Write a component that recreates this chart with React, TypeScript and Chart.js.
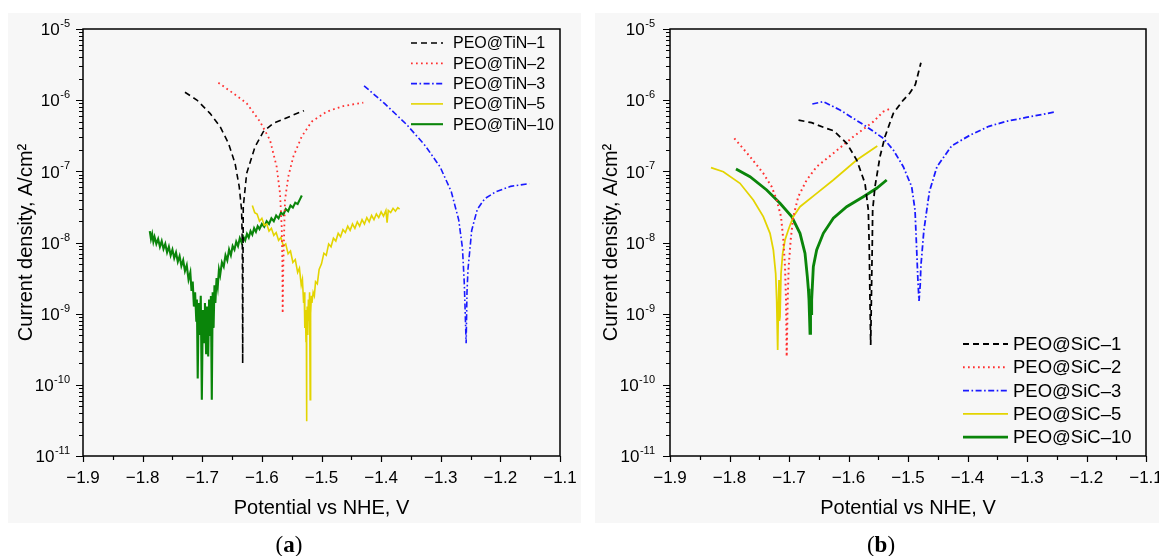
import React, { useEffect, useRef } from 'react';
import { Chart, registerables } from 'chart.js';

Chart.register(...registerables);

const FONT = '"Liberation Sans", Arial, Helvetica, sans-serif';

// ---------- shared axis values ----------
const xTickValues = [-1.9, -1.8, -1.7, -1.6, -1.5, -1.4, -1.3, -1.2, -1.1];
const yTickValues = [1e-11, 1e-10, 1e-9, 1e-8, 1e-7, 1e-6, 1e-5];

// ---------- panel (a): PEO@TiN ----------
// potentials in V vs NHE, current density given as log10(A/cm²)
const tinNames = ['PEO@TiN–1', 'PEO@TiN–2', 'PEO@TiN–3', 'PEO@TiN–5', 'PEO@TiN–10'];

const tin1V = [-1.729, -1.709, -1.687, -1.670, -1.656, -1.645, -1.638, -1.634, -1.6328, -1.6325, -1.6322, -1.6318, -1.6315, -1.6312, -1.6255, -1.6115, -1.5976, -1.5808, -1.564, -1.5473, -1.5294];
const tin1LogJ = [-5.889, -5.998, -6.185, -6.373, -6.606, -6.887, -7.216, -7.543, -8.011, -8.714, -9.697, -8.82, -8.0, -7.497, -7.028, -6.654, -6.443, -6.325, -6.269, -6.208, -6.148];

const tin2V = [-1.673, -1.648, -1.6255, -1.6031, -1.5864, -1.5752, -1.5696, -1.5668, -1.5657, -1.5651, -1.5640, -1.5625, -1.5612, -1.5557, -1.5473, -1.5333, -1.5165, -1.4913, -1.4634, -1.4299];
const tin2LogJ = [-5.754, -5.904, -6.044, -6.302, -6.56, -6.935, -7.309, -7.778, -8.246, -8.995, -8.3, -7.82, -7.403, -7.075, -6.794, -6.513, -6.302, -6.162, -6.082, -6.035];

const tin3V = [-1.4286, -1.3944, -1.357, -1.3259, -1.301, -1.2823, -1.2699, -1.2636, -1.2605, -1.2574, -1.2560, -1.2543, -1.2481, -1.2387, -1.2263, -1.2076, -1.1827, -1.1516];
const tin3LogJ = [-5.798, -6.046, -6.344, -6.641, -6.939, -7.286, -7.682, -8.079, -8.575, -9.417, -8.7, -8.376, -7.831, -7.533, -7.385, -7.286, -7.211, -7.172];

const tin5V = [-1.616, -1.612, -1.608, -1.604, -1.600, -1.596, -1.592, -1.588, -1.584, -1.580, -1.576, -1.572, -1.568, -1.564, -1.560, -1.556, -1.552, -1.548, -1.544, -1.540, -1.537, -1.534, -1.532, -1.530, -1.529, -1.528, -1.527, -1.526, -1.5255, -1.5252, -1.5245, -1.524, -1.523, -1.522, -1.521, -1.520, -1.519, -1.5185, -1.518, -1.517, -1.516, -1.514, -1.512, -1.510, -1.507, -1.504, -1.500, -1.496, -1.492, -1.488, -1.484, -1.480, -1.476, -1.472, -1.468, -1.464, -1.460, -1.456, -1.452, -1.448, -1.444, -1.440, -1.436, -1.432, -1.428, -1.424, -1.420, -1.416, -1.412, -1.408, -1.404, -1.400, -1.396, -1.392, -1.390, -1.388, -1.384, -1.380, -1.376, -1.372, -1.369];
const tin5LogJ = [-7.48, -7.58, -7.60, -7.70, -7.66, -7.76, -7.74, -7.84, -7.80, -7.90, -7.86, -7.97, -7.93, -8.05, -8.02, -8.16, -8.12, -8.28, -8.24, -8.42, -8.36, -8.60, -8.52, -8.85, -8.70, -9.20, -8.95, -9.40, -9.05, -10.51, -9.2, -8.9, -9.3, -8.8, -9.1, -8.7, -10.21, -8.9, -9.0, -8.75, -8.85, -8.70, -8.75, -8.55, -8.58, -8.38, -8.30, -8.15, -8.18, -8.02, -8.06, -7.94, -7.98, -7.87, -7.92, -7.82, -7.86, -7.77, -7.83, -7.74, -7.80, -7.71, -7.77, -7.68, -7.74, -7.65, -7.71, -7.62, -7.68, -7.60, -7.65, -7.57, -7.63, -7.55, -7.72, -7.55, -7.58, -7.52, -7.56, -7.51, -7.53];

const tin10V = [-1.788, -1.786, -1.784, -1.782, -1.780, -1.777, -1.774, -1.771, -1.768, -1.765, -1.762, -1.759, -1.756, -1.753, -1.750, -1.747, -1.744, -1.741, -1.738, -1.735, -1.732, -1.729, -1.726, -1.723, -1.720, -1.718, -1.716, -1.714, -1.712, -1.710, -1.709, -1.7076, -1.706, -1.704, -1.7025, -1.7007, -1.699, -1.697, -1.6955, -1.6935, -1.692, -1.690, -1.6885, -1.687, -1.6855, -1.684, -1.6825, -1.681, -1.6795, -1.678, -1.676, -1.674, -1.672, -1.670, -1.667, -1.664, -1.661, -1.658, -1.655, -1.652, -1.649, -1.646, -1.643, -1.640, -1.637, -1.634, -1.631, -1.628, -1.625, -1.622, -1.619, -1.616, -1.613, -1.610, -1.607, -1.604, -1.600, -1.596, -1.592, -1.588, -1.584, -1.580, -1.576, -1.572, -1.568, -1.564, -1.560, -1.556, -1.552, -1.548, -1.544, -1.540, -1.536, -1.533];
const tin10LogJ = [-7.84, -7.95, -7.88, -7.99, -7.92, -8.02, -7.95, -8.06, -7.98, -8.09, -8.02, -8.14, -8.06, -8.18, -8.10, -8.22, -8.14, -8.27, -8.19, -8.33, -8.25, -8.40, -8.32, -8.52, -8.42, -8.68, -8.55, -8.90, -8.70, -9.10, -8.80, -9.91, -8.85, -9.30, -8.75, -10.21, -8.95, -9.40, -8.85, -9.57, -8.90, -9.60, -8.80, -9.30, -8.75, -10.21, -8.70, -9.20, -8.60, -8.85, -8.50, -8.62, -8.38, -8.46, -8.28, -8.34, -8.18, -8.25, -8.10, -8.18, -8.05, -8.10, -7.99, -8.05, -7.94, -8.00, -7.92, -7.97, -7.88, -7.93, -7.84, -7.89, -7.80, -7.85, -7.77, -7.81, -7.74, -7.78, -7.70, -7.74, -7.66, -7.70, -7.62, -7.66, -7.58, -7.61, -7.53, -7.56, -7.48, -7.51, -7.44, -7.46, -7.39, -7.34];

// ---------- panel (b): PEO@SiC ----------
const sicNames = ['PEO@SiC–1', 'PEO@SiC–2', 'PEO@SiC–3', 'PEO@SiC–5', 'PEO@SiC–10'];

const sic1V = [-1.684, -1.662, -1.6395, -1.625, -1.603, -1.5862, -1.5723, -1.5667, -1.565, -1.5639, -1.5627, -1.5612, -1.5600, -1.5594, -1.5555, -1.5471, -1.5387, -1.5247, -1.5079, -1.4969, -1.4876, -1.4783];
const sic1LogJ = [-6.28, -6.316, -6.39, -6.43, -6.606, -6.841, -7.168, -7.543, -8.105, -8.808, -9.44, -8.6, -8.0, -7.543, -7.216, -6.794, -6.513, -6.185, -5.998, -5.90, -5.78, -5.475];

const sic2V = [-1.7919, -1.7655, -1.7432, -1.7291, -1.7207, -1.7134, -1.7095, -1.7067, -1.705, -1.7039, -1.7022, -1.7005, -1.6972, -1.6928, -1.6844, -1.6703, -1.6535, -1.6255, -1.5919, -1.5583, -1.5415, -1.530];
const sic2LogJ = [-6.536, -6.794, -7.028, -7.216, -7.403, -7.637, -7.965, -8.34, -8.808, -9.604, -8.808, -8.34, -7.965, -7.637, -7.356, -7.122, -6.935, -6.747, -6.513, -6.302, -6.162, -6.12];

const sic3V = [-1.6608, -1.6423, -1.6143, -1.5695, -1.5415, -1.5247, -1.5079, -1.4938, -1.4882, -1.4854, -1.4835, -1.4815, -1.4795, -1.4783, -1.4733, -1.464, -1.4514, -1.4265, -1.3953, -1.364, -1.3328, -1.3015, -1.2546];
const sic3LogJ = [-6.054, -6.021, -6.138, -6.373, -6.536, -6.70, -6.935, -7.216, -7.543, -8.105, -8.5, -8.82, -8.6, -8.326, -7.83, -7.285, -6.937, -6.64, -6.49, -6.367, -6.293, -6.243, -6.169];

const sic5V = [-1.8311, -1.8104, -1.7824, -1.76, -1.7432, -1.7319, -1.7263, -1.7224, -1.7207, -1.719, -1.7178, -1.7168, -1.7160, -1.7151, -1.7134, -1.7106, -1.7067, -1.7012, -1.6928, -1.6815, -1.6535, -1.6255, -1.5862, -1.5516];
const sic5LogJ = [-6.949, -7.005, -7.168, -7.403, -7.637, -7.871, -8.105, -8.433, -8.808, -9.51, -8.9, -8.527, -9.1, -9.042, -8.433, -8.152, -7.965, -7.824, -7.637, -7.497, -7.309, -7.122, -6.841, -6.644];

const sic10V = [-1.7891, -1.7655, -1.7375, -1.7151, -1.6955, -1.6815, -1.6731, -1.6692, -1.6675, -1.6664, -1.6655, -1.6647, -1.6638, -1.6630, -1.6619, -1.6591, -1.6535, -1.6423, -1.6255, -1.603, -1.5751, -1.5527, -1.5358];
const sic10LogJ = [-6.967, -7.075, -7.262, -7.449, -7.637, -7.871, -8.152, -8.48, -8.65, -8.808, -9.05, -9.276, -8.85, -9.0, -8.808, -8.34, -8.105, -7.871, -7.66, -7.497, -7.356, -7.238, -7.122];

// ---------- styles ----------
const STYLES = [
  { color: '#000000', dash: [6, 4], width: 1.6 },
  { color: '#ff3030', dash: [1.7, 3.3], width: 1.8 },
  { color: '#1a1aff', dash: [6, 2.5, 1.6, 2.5], width: 1.6 },
  { color: '#e3d400', dash: [] as number[], width: 1.6 },
  { color: '#0a850a', dash: [] as number[], width: 2.1 },
];

function xLabel(v: number): string {
  return v.toFixed(1).replace('-', '\u2212');
}

function buildDatasets(series: { v: number[]; lj: number[] }[], names: string[], widthScale: number[]) {
  return series.map((s, k) => ({
    label: names[k],
    data: s.v.map((x, i) => ({ x, y: Math.pow(10, s.lj[i]) })),
    borderColor: STYLES[k].color,
    borderWidth: STYLES[k].width * widthScale[k],
    borderDash: STYLES[k].dash,
    borderCapStyle: 'butt' as const,
    pointRadius: 0,
    tension: 0,
    fill: false,
  }));
}

function makeAxisPlugin(labelRight: number) {
  return {
    id: 'frameTicks',
    afterDraw(chart: any) {
      const { ctx, chartArea: a, scales } = chart;
      const xs = scales.x;
      const ys = scales.y;
      ctx.save();
      ctx.strokeStyle = '#000';
      ctx.lineWidth = 1.5;
      ctx.setLineDash([]);
      ctx.strokeRect(a.left, a.top, a.right - a.left, a.bottom - a.top);
      ctx.lineWidth = 1.2;
      ctx.beginPath();
      for (let i = 0; i <= 16; i++) {
        const v = -1.9 + i * 0.05;
        const px = Math.round(xs.getPixelForValue(v)) + 0.5;
        const len = i % 2 === 0 ? 6 : 4;
        ctx.moveTo(px, a.bottom);
        ctx.lineTo(px, a.bottom + len);
      }
      for (let d = -11; d <= -5; d++) {
        for (let m = 1; m <= 9; m++) {
          if (d === -5 && m > 1) break;
          const val = m * Math.pow(10, d);
          const py = Math.round(ys.getPixelForValue(val)) + 0.5;
          const len = m === 1 ? 7 : 4;
          ctx.moveTo(a.left - len, py);
          ctx.lineTo(a.left, py);
        }
      }
      ctx.stroke();
      // y tick labels: 10 with superscript exponent
      ctx.fillStyle = '#000';
      ctx.textAlign = 'right';
      ctx.textBaseline = 'middle';
      yTickValues.forEach((v) => {
        const py = ys.getPixelForValue(v);
        const exp = String(Math.round(Math.log10(v)));
        ctx.font = `11px ${FONT}`;
        const ew = ctx.measureText(exp).width;
        ctx.fillText(exp, labelRight, py - 5);
        ctx.font = `17px ${FONT}`;
        ctx.fillText('10', labelRight - ew - 0.5, py + 1.5);
      });
      ctx.restore();
    },
  };
}

function makeLegendPlugin(cfg: { x0: number; x1: number; tx: number; y0: number; dy: number; size: number; names: string[]; widthScale: number[] }) {
  return {
    id: 'insetLegend',
    afterDraw(chart: any) {
      const ctx = chart.ctx;
      ctx.save();
      cfg.names.forEach((name, i) => {
        const y = cfg.y0 + i * cfg.dy;
        const st = STYLES[i];
        ctx.strokeStyle = st.color;
        ctx.lineWidth = st.width * cfg.widthScale[i];
        ctx.lineCap = 'butt';
        ctx.setLineDash(st.dash);
        ctx.beginPath();
        ctx.moveTo(cfg.x0, y);
        ctx.lineTo(cfg.x1, y);
        ctx.stroke();
        ctx.setLineDash([]);
        ctx.fillStyle = '#000';
        ctx.font = `${cfg.size}px ${FONT}`;
        ctx.textAlign = 'left';
        ctx.textBaseline = 'middle';
        ctx.fillText(name, cfg.tx, y + 1);
      });
      ctx.restore();
    },
  };
}

type PanelCfg = {
  left: number;
  width: number;
  yWidth: number;
  padRight: number;
  labelRight: number;
  yTitlePad: number;
  datasets: any[];
  legend: any;
};

function Panel({ cfg }: { cfg: PanelCfg }) {
  const ref = useRef<HTMLCanvasElement>(null);
  useEffect(() => {
    const chart = new Chart(ref.current as HTMLCanvasElement, {
      type: 'line',
      data: { datasets: cfg.datasets },
      plugins: [makeAxisPlugin(cfg.labelRight), makeLegendPlugin(cfg.legend)],
      options: {
        animation: false,
        responsive: false,
        maintainAspectRatio: false,
        layout: { padding: { left: 0, top: 29, right: cfg.padRight, bottom: 0 } },
        plugins: { legend: { display: false }, tooltip: { enabled: false }, title: { display: false } },
        scales: {
          x: {
            type: 'linear',
            min: -1.9,
            max: -1.1,
            afterBuildTicks: (s: any) => {
              s.ticks = xTickValues.map((v) => ({ value: v }));
            },
            afterFit: (s: any) => {
              s.height = 100;
              s.paddingLeft = 0;
              s.paddingRight = 0;
            },
            ticks: {
              callback: (v: any) => xLabel(Number(v)),
              font: { size: 17, family: FONT },
              color: '#000',
              padding: 7,
              maxRotation: 0,
              autoSkip: false,
            },
            grid: { display: false, drawTicks: true, tickLength: 5 },
            border: { display: false },
            title: {
              display: true,
              text: 'Potential vs NHE, V',
              font: { size: 20, family: FONT },
              color: '#000',
              padding: { top: 0, bottom: 36 },
            },
          },
          y: {
            type: 'logarithmic',
            min: 1e-11,
            max: 1e-5,
            afterBuildTicks: (s: any) => {
              s.ticks = yTickValues.map((v) => ({ value: v }));
            },
            afterFit: (s: any) => {
              s.width = cfg.yWidth;
              s.paddingTop = 0;
              s.paddingBottom = 0;
            },
            ticks: { display: false },
            grid: { display: false, drawTicks: false },
            border: { display: false },
            title: {
              display: true,
              text: 'Current density, A/cm²',
              font: { size: 20, family: FONT },
              color: '#000',
              padding: { top: cfg.yTitlePad, bottom: 0 },
            },
          },
        },
      } as any,
    });
    return () => chart.destroy();
  }, []);
  return (
    <canvas
      ref={ref}
      width={cfg.width}
      height={556}
      style={{ position: 'absolute', left: cfg.left, top: 0, width: cfg.width, height: 556 }}
    />
  );
}

const tinSeries = [
  { v: tin1V, lj: tin1LogJ },
  { v: tin2V, lj: tin2LogJ },
  { v: tin3V, lj: tin3LogJ },
  { v: tin5V, lj: tin5LogJ },
  { v: tin10V, lj: tin10LogJ },
];
const sicSeries = [
  { v: sic1V, lj: sic1LogJ },
  { v: sic2V, lj: sic2LogJ },
  { v: sic3V, lj: sic3LogJ },
  { v: sic5V, lj: sic5LogJ },
  { v: sic10V, lj: sic10LogJ },
];

const widthA = [1, 1, 1, 1, 1];
const widthB = [1.1, 1.1, 1.1, 1.1, 1.35];

const panelA: PanelCfg = {
  left: 0,
  width: 580,
  yWidth: 83,
  padRight: 20,
  labelRight: 70,
  yTitlePad: 14,
  datasets: buildDatasets(tinSeries, tinNames, widthA),
  legend: { x0: 411, x1: 443, tx: 453, y0: 43, dy: 20.3, size: 16, names: tinNames, widthScale: widthA },
};

const panelB: PanelCfg = {
  left: 580,
  width: 579,
  yWidth: 90,
  padRight: 13,
  labelRight: 75,
  yTitlePad: 19.6,
  datasets: buildDatasets(sicSeries, sicNames, widthB),
  legend: { x0: 383, x1: 428, tx: 433, y0: 344, dy: 23.3, size: 18.5, names: sicNames, widthScale: widthB },
};

const captionStyle: React.CSSProperties = {
  position: 'absolute',
  top: 531,
  width: 100,
  height: 28,
  lineHeight: '28px',
  textAlign: 'center',
  fontFamily: '"Liberation Serif", "DejaVu Serif", serif',
  fontSize: 23,
  color: '#000',
};

export default function App() {
  return (
    <div style={{ position: 'absolute', left: 0, top: 0, width: 1159, height: 556, background: '#ffffff', overflow: 'hidden' }}>
      <div style={{ position: 'absolute', left: 8, top: 13, width: 573, height: 510, background: '#f7f7f7' }} />
      <div style={{ position: 'absolute', left: 595, top: 13, width: 564, height: 510, background: '#f7f7f7' }} />
      <Panel cfg={panelA} />
      <Panel cfg={panelB} />
      <div style={{ ...captionStyle, left: 239 }}>
        (<b>a</b>)
      </div>
      <div style={{ ...captionStyle, left: 831 }}>
        (<b>b</b>)
      </div>
    </div>
  );
}
